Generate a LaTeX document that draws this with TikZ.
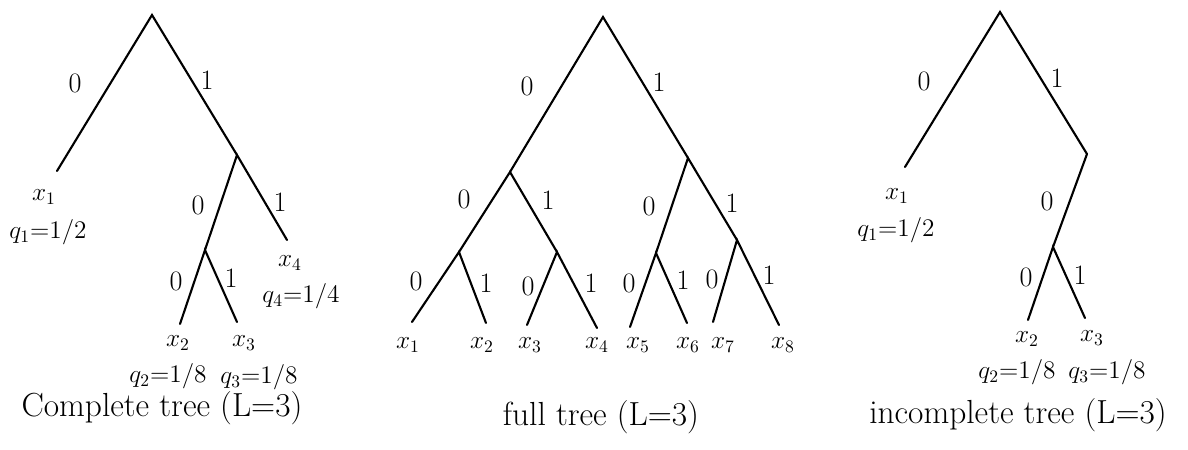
\documentclass[tikz,border=0pt]{standalone}
\usetikzlibrary{positioning}

\begin{document}
\begin{tikzpicture}
  [x=0.02cm,y=-0.02cm,line width=1.2pt,line cap=round,
   bit/.style={font=\fontsize{16}{18}\selectfont,inner sep=0pt},
   leaf/.style={font=\fontsize{14.5}{16}\selectfont,inner sep=0pt},
   caption/.style={font=\fontsize{19}{22}\selectfont,inner sep=0pt}]
  \useasboundingbox (0,0) rectangle (1188,450);

  % complete tree
  \coordinate (c)   at (152,15);
  \coordinate (c0)  at (57,171);
  \coordinate (c1)  at (237,155);
  \coordinate (c10) at (205,250);
  \coordinate (c11) at (287,240);
  \coordinate (c100) at (180,324);
  \coordinate (c101) at (237,322);
  \draw (c0) -- (c) -- (c1);
  \draw (c10) -- (c1) -- (c11);
  \draw (c100) -- (c10) -- (c101);

  \node[bit] (cb0)   at (75,83)  {0};
  \node[bit] (cb1)   at (207,80) {1};
  \node[bit] (cb10)  at (198,205) {0};
  \node[bit] (cb11)  at (280,202) {1};
  \node[bit] (cb100) at (176,281) {0};
  \node[bit] (cb101) at (231,278) {1};

  \node[leaf] (cx1) at (44,197)  {$x_1$};
  \node[leaf] (cq1) at (48,232)  {$q_1{=}1/2$};
  \node[leaf] (cx4) at (290,263) {$x_4$};
  \node[leaf] (cq4) at (301,296) {$q_4{=}1/4$};
  \node[leaf] (cx2) at (178,343) {$x_2$};
  \node[leaf] (cq2) at (168,376) {$q_2{=}1/8$};
  \node[leaf] (cx3) at (244,343) {$x_3$};
  \node[leaf] (cq3) at (259,377) {$q_3{=}1/8$};
  \node[caption] (ccap) at (162,408) {Complete tree (L=3)};

  % full tree
  \coordinate (f)   at (603,17);
  \coordinate (f0)  at (510,172);
  \coordinate (f1)  at (688,158);
  \coordinate (f00) at (459,252);
  \coordinate (f01) at (557,252);
  \coordinate (f10) at (656,253);
  \coordinate (f11) at (737,240);
  \coordinate (f000) at (412,322);
  \coordinate (f001) at (486,323);
  \coordinate (f010) at (527,325);
  \coordinate (f011) at (597,328);
  \coordinate (f100) at (630,327);
  \coordinate (f101) at (687,323);
  \coordinate (f110) at (713,322);
  \coordinate (f111) at (779,325);
  \draw (f0) -- (f) -- (f1);
  \draw (f00) -- (f0) -- (f01);
  \draw (f10) -- (f1) -- (f11);
  \draw (f000) -- (f00) -- (f001);
  \draw (f010) -- (f01) -- (f011);
  \draw (f100) -- (f10) -- (f101);
  \draw (f110) -- (f11) -- (f111);

  \node[bit] (fb0)   at (527,86)  {0};
  \node[bit] (fb1)   at (659,82)  {1};
  \node[bit] (fb00)  at (464,199) {0};
  \node[bit] (fb01)  at (548,200) {1};
  \node[bit] (fb10)  at (649,206) {0};
  \node[bit] (fb11)  at (732,203) {1};
  \node[bit] (fb000) at (416,281) {0};
  \node[bit] (fb001) at (486,283) {1};
  \node[bit] (fb010) at (528,286) {0};
  \node[bit] (fb011) at (591,283) {1};
  \node[bit] (fb100) at (629,283) {0};
  \node[bit] (fb101) at (683,280) {1};
  \node[bit] (fb110) at (712,279) {0};
  \node[bit] (fb111) at (769,275) {1};

  \node[leaf] (fx1) at (408,345) {$x_1$};
  \node[leaf] (fx2) at (482,345) {$x_2$};
  \node[leaf] (fx3) at (530,345) {$x_3$};
  \node[leaf] (fx4) at (597,345) {$x_4$};
  \node[leaf] (fx5) at (638,345) {$x_5$};
  \node[leaf] (fx6) at (688,345) {$x_6$};
  \node[leaf] (fx7) at (723,345) {$x_7$};
  \node[leaf] (fx8) at (783,345) {$x_8$};
  \node[caption] (fcap) at (601,417) {full tree (L=3)};

  % incomplete tree
  \coordinate (i)   at (1000,12);
  \coordinate (i0)  at (905,167);
  \coordinate (i1)  at (1087,154);
  \coordinate (i10) at (1053,247);
  \coordinate (i100) at (1028,320);
  \coordinate (i101) at (1085,318);
  \draw (i0) -- (i) -- (i1);
  \draw (i1) -- (i10);
  \draw (i100) -- (i10) -- (i101);

  \node[bit] (ib0)   at (924,81)   {0};
  \node[bit] (ib1)   at (1057,78)  {1};
  \node[bit] (ib10)  at (1047,201) {0};
  \node[bit] (ib100) at (1026,277) {0};
  \node[bit] (ib101) at (1080,275) {1};

  \node[leaf] (ix1) at (897,196)  {$x_1$};
  \node[leaf] (iq1) at (896,230)  {$q_1{=}1/2$};
  \node[leaf] (ix2) at (1027,339) {$x_2$};
  \node[leaf] (iq2) at (1017,372) {$q_2{=}1/8$};
  \node[leaf] (ix3) at (1092,338) {$x_3$};
  \node[leaf] (iq3) at (1107,372) {$q_3{=}1/8$};
  \node[caption] (icap) at (1018,415) {incomplete tree (L=3)};
\end{tikzpicture}
\end{document}
